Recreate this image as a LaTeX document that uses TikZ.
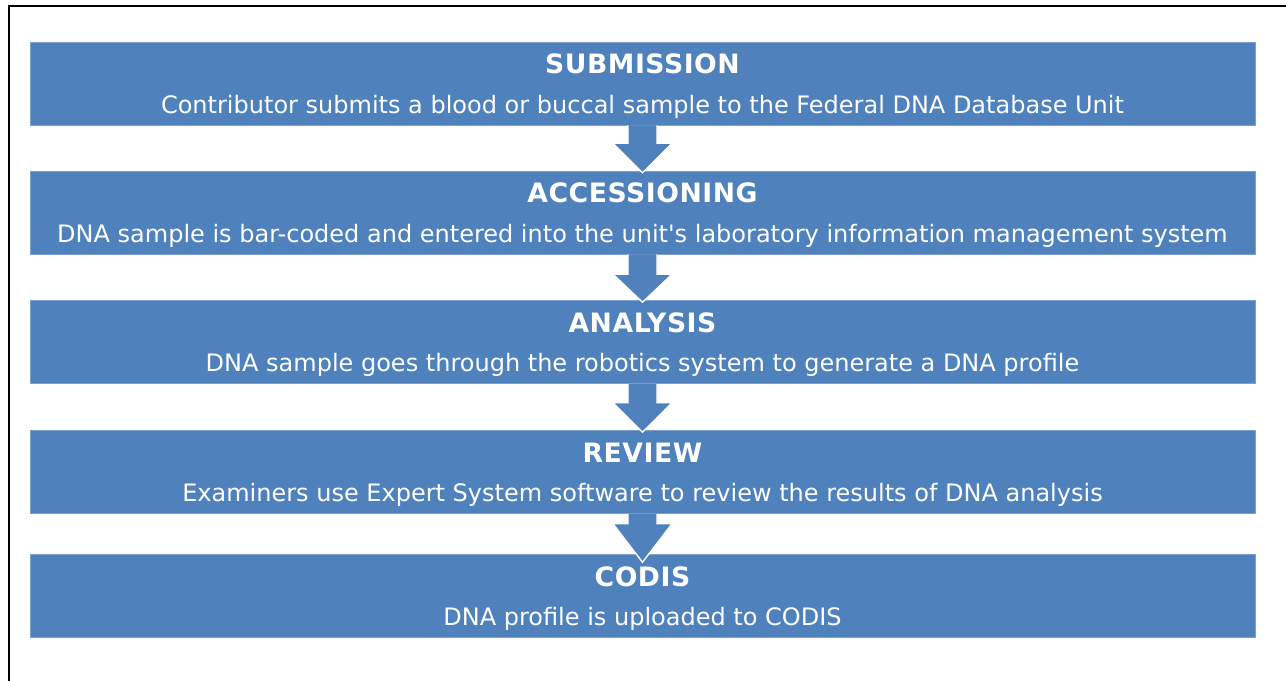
\documentclass[tikz,border=0pt]{standalone}
\usepackage{fontspec}
\setmainfont{DejaVu Sans}
\newfontfamily\headfont[LetterSpace=2]{DejaVu Sans}
\usetikzlibrary{calc}
\definecolor{stageblue}{HTML}{4F81BD}

% block arrow between two stages: #1 upper, #2 lower, #3 stem length, #4 tip depth
\newcommand{\stagearrow}[4]{%
  \filldraw[flow] ($(#1.south)+(-14.5,0)$) -- ++(0,#3) -- ++(-15,0)
    -- ($(#2.north)+(0,#4)$) -- ($(#1.south)+(29.5,#3)$) -- ++(-15,0)
    -- ($(#1.south)+(14.5,0)$);
}

\begin{document}
\begin{tikzpicture}[x=0.75pt,y=-0.75pt,
    stage/.style={fill=stageblue, draw=stageblue!75!white, line width=0.4pt,
      minimum width=918.75pt, minimum height=62.25pt, inner sep=0pt},
    head/.style={anchor=base, text=white, font=\headfont\bfseries\fontsize{20}{20}\selectfont},
    info/.style={anchor=base, text=white, font=\fontsize{18}{18}\selectfont},
    flow/.style={fill=stageblue, draw=white, line width=1pt}]
    \useasboundingbox (0,0) rectangle (1286,681);
    \draw[line width=1.5pt] (9,681) -- (9,6) -- (1286,6);

    % the five stages
    \node[stage] (sub) at (642.5,83.5) {};
    \node[stage] (acc) at (642.5,212.5) {};
    \node[stage] (ana) at (642.5,342) {};
    \node[stage] (rev) at (642.5,472) {};
    \node[stage] (cod) at (642.5,596) {};

    \node[head] (subT) at ([yshift=-24pt]sub.north) {SUBMISSION};
    \node[info] (subD) at ([yshift=9pt]sub.south) {Contributor submits a blood or buccal sample to the Federal DNA Database Unit};
    \node[head] (accT) at ([yshift=-24pt]acc.north) {ACCESSIONING};
    \node[info] (accD) at ([yshift=9pt]acc.south) {DNA sample is bar-coded and entered into the unit\textquotesingle s laboratory information management system};
    \node[head] (anaT) at ([yshift=-24pt]ana.north) {ANALYSIS};
    \node[info] (anaD) at ([yshift=9pt]ana.south) {DNA sample goes through the robotics system to generate a DNA profile};
    \node[head] (revT) at ([yshift=-24pt]rev.north) {REVIEW};
    \node[info] (revD) at ([yshift=9pt]rev.south) {Examiners use Expert System software to review the results of DNA analysis};
    \node[head] (codT) at ([yshift=-24pt]cod.north) {CODIS};
    \node[info] (codD) at ([yshift=9pt]cod.south) {DNA profile is uploaded to CODIS};

    % arrows down the chain
    \stagearrow{sub}{acc}{18}{2}
    \stagearrow{acc}{ana}{20}{2}
    \stagearrow{ana}{rev}{19}{2}
    \stagearrow{rev}{cod}{10}{8}
\end{tikzpicture}
\end{document}
